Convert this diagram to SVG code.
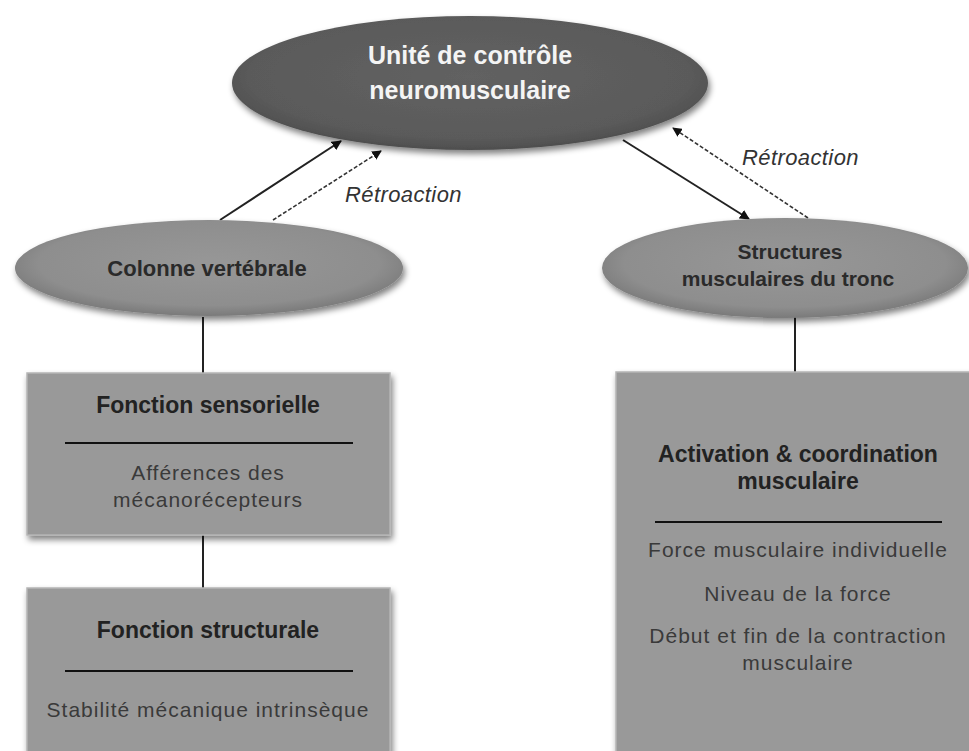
<svg xmlns="http://www.w3.org/2000/svg" width="969" height="751" viewBox="0 0 969 751">
<style>
.bold{font-family:"Liberation Sans",Arial,sans-serif;font-weight:bold;text-anchor:middle}
.reg{font-family:"Liberation Sans",Arial,sans-serif;text-anchor:middle;fill:#3a3a3a;font-size:21px;letter-spacing:1px}
.ital{font-family:"Liberation Sans",Arial,sans-serif;font-style:italic;fill:#333;font-size:22px;letter-spacing:0.4px}
.box{fill:#999999;stroke:#b5b5b5;stroke-width:1.5}
.sep{stroke:#111;stroke-width:2}
.conn{stroke:#222;stroke-width:2;fill:none}
.dash{stroke:#333;stroke-width:1.6;stroke-dasharray:4 2;fill:none}
</style>
<defs>
<filter id="sh" x="-10%" y="-20%" width="120%" height="150%">
<feGaussianBlur in="SourceAlpha" stdDeviation="3"/>
<feOffset dx="2" dy="4" result="b"/>
<feComponentTransfer><feFuncA type="linear" slope="0.5"/></feComponentTransfer>
<feMerge><feMergeNode/><feMergeNode in="SourceGraphic"/></feMerge>
</filter>
<radialGradient id="gTop" cx="50%" cy="45%" r="55%">
<stop offset="0" stop-color="#626262"/><stop offset="0.85" stop-color="#5a5a5a"/><stop offset="1" stop-color="#4e4e4e"/>
</radialGradient>
<radialGradient id="gSide" cx="50%" cy="45%" r="55%">
<stop offset="0" stop-color="#979797"/><stop offset="0.8" stop-color="#8e8e8e"/><stop offset="1" stop-color="#7a7a7a"/>
</radialGradient>
<marker id="ah" viewBox="0 0 10 10" refX="9" refY="5" markerWidth="5" markerHeight="5" orient="auto" markerUnits="strokeWidth">
<path d="M0,0 L10,5 L0,10 z" fill="#111"/>
</marker>
<marker id="ahd" viewBox="0 0 10 10" refX="9" refY="5" markerWidth="6" markerHeight="6" orient="auto" markerUnits="strokeWidth">
<path d="M0,0 L10,5 L0,10 z" fill="#111"/>
</marker>
</defs>
<rect width="969" height="751" fill="#ffffff"/>

<g id="connectors">
<line class="conn" x1="220" y1="220" x2="341" y2="141" marker-end="url(#ah)"/>
<line class="dash" x1="273" y1="220" x2="381" y2="151" marker-end="url(#ahd)"/>
<line class="conn" x1="623" y1="140" x2="749" y2="219" marker-end="url(#ah)"/>
<line class="dash" x1="808" y1="218" x2="673" y2="128" marker-end="url(#ahd)"/>
<line class="conn" x1="203" y1="317" x2="203" y2="373"/>
<line class="conn" x1="203" y1="535" x2="203" y2="588"/>
<line class="conn" x1="795" y1="317" x2="795" y2="372"/>
<text class="ital" x="345" y="202">Rétroaction</text>
<text class="ital" x="742" y="165">Rétroaction</text>
</g>

<g id="unite">
<ellipse cx="470" cy="83" rx="238" ry="67" fill="url(#gTop)" filter="url(#sh)"/>
<text class="bold" x="470" y="64" font-size="25" fill="#f4f4f4">Unité de contrôle</text>
<text class="bold" x="470" y="99" font-size="25" fill="#f4f4f4">neuromusculaire</text>
</g>

<g id="colonne">
<ellipse cx="209" cy="268" rx="194" ry="48" fill="url(#gSide)" filter="url(#sh)"/>
<text class="bold" x="207" y="276" font-size="22" fill="#2a2a2a">Colonne vertébrale</text>
</g>

<g id="structures">
<ellipse cx="785" cy="268" rx="183" ry="50" fill="url(#gSide)" filter="url(#sh)"/>
<text class="bold" x="790" y="259" font-size="21" fill="#2a2a2a">Structures</text>
<text class="bold" x="788" y="286" font-size="21" fill="#2a2a2a">musculaires du tronc</text>
</g>

<g id="sensorielle">
<rect class="box" x="27" y="373" width="363" height="162" filter="url(#sh)"/>
<text class="bold" x="208" y="413" font-size="23" fill="#222">Fonction sensorielle</text>
<line class="sep" x1="65" y1="443" x2="353" y2="443"/>
<text class="reg" x="208" y="480">Afférences des</text>
<text class="reg" x="208" y="507">mécanorécepteurs</text>
</g>

<g id="structurale">
<rect class="box" x="27" y="588" width="363" height="170" filter="url(#sh)"/>
<text class="bold" x="208" y="638" font-size="23" fill="#222">Fonction structurale</text>
<line class="sep" x1="65" y1="671" x2="353" y2="671"/>
<text class="reg" x="208" y="717">Stabilité mécanique intrinsèque</text>
</g>

<g id="activation">
<rect class="box" x="616" y="372" width="360" height="390" filter="url(#sh)"/>
<text class="bold" x="798" y="462" font-size="23" fill="#222">Activation  &amp; coordination</text>
<text class="bold" x="798" y="489" font-size="23" fill="#222">musculaire</text>
<line class="sep" x1="655" y1="522" x2="942" y2="522"/>
<text class="reg" x="798" y="557">Force musculaire individuelle</text>
<text class="reg" x="798" y="601">Niveau de la force</text>
<text class="reg" x="798" y="643">Début et fin de la contraction</text>
<text class="reg" x="798" y="670">musculaire</text>
</g>
</svg>
